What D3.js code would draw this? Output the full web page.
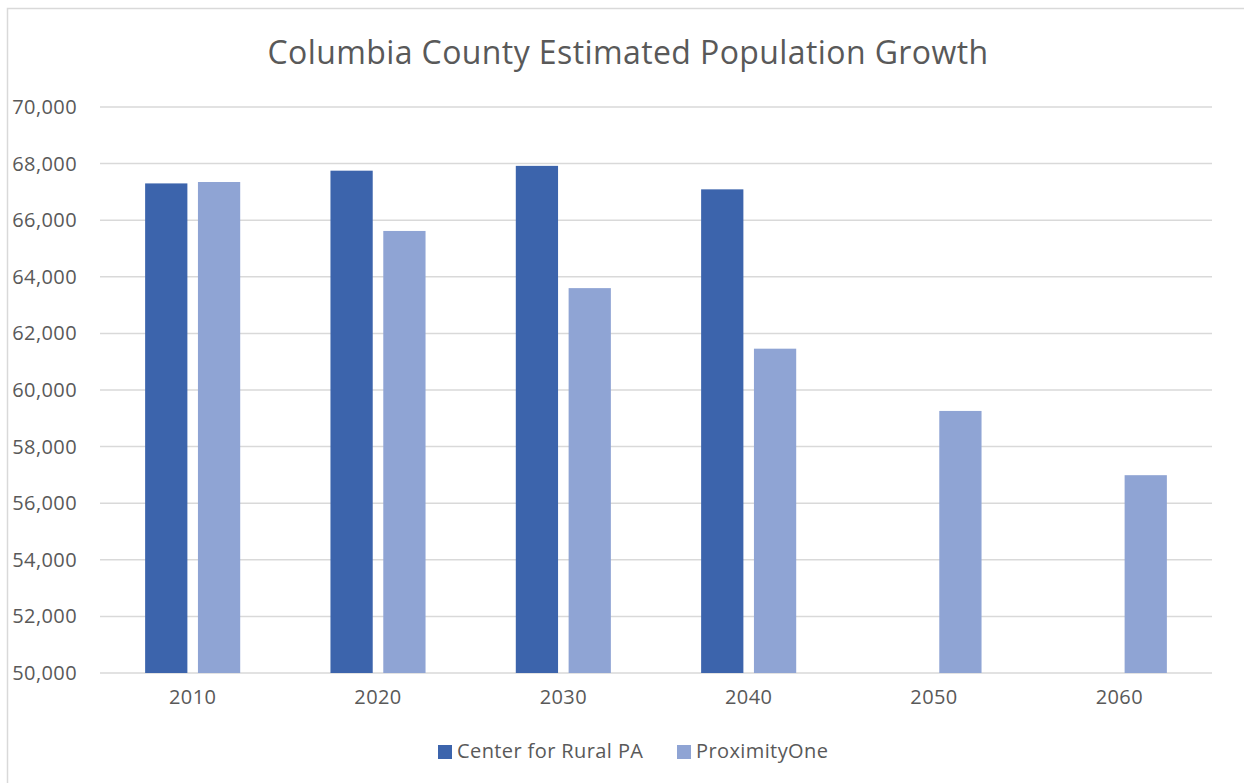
<!DOCTYPE html>
<html>
<head>
<meta charset="UTF-8">
<title>Columbia County Estimated Population Growth</title>
<script src="https://d3js.org/d3.v7.min.js"></script>
<style>
	body { margin: 0; background: #fff; }
	text { font-family: "Open Sans", "Liberation Sans", sans-serif; fill: #595959; }
</style>
</head>
<body>
<svg id="chart"></svg>
<script type="text/javascript">
	var years = ["2010", "2020", "2030", "2040", "2050", "2060"];
	var seriesNames = ["Center for Rural PA", "ProximityOne"];
	var centerRural = [67300, 67750, 67920, 67090, null, null];
	var proximityOne = [67350, 65620, 63600, 61460, 59260, 56990];
	var yTicks = [50000, 52000, 54000, 56000, 58000, 60000, 62000, 64000, 66000, 68000, 70000];
	var colors = ["#3c64ac", "#8fa4d4"];

	var width = 1244, height = 783;
	var margin = { left: 100, right: 32, top: 107, bottom: 110 };

	var svg = d3.select("#chart")
		.attr("width", width)
		.attr("height", height);

	// chart frame
	svg.append("rect")
		.attr("x", 7.5).attr("y", 8.5)
		.attr("width", 1260).attr("height", 800)
		.attr("fill", "none")
		.attr("stroke", "#d9d9d9")
		.attr("stroke-width", 1.5);

	var x0 = d3.scaleBand().domain(years)
		.range([margin.left, width - margin.right])
		.paddingInner(0.487).paddingOuter(0.2435);
	var x1 = d3.scaleBand().domain([0, 1])
		.range([0, x0.bandwidth()])
		.paddingInner(0.2);
	var y = d3.scaleLinear().domain([50000, 70000])
		.range([height - margin.bottom, margin.top]);

	// gridlines
	svg.append("g").selectAll("line")
		.data(yTicks).enter().append("line")
		.attr("x1", margin.left).attr("x2", width - margin.right)
		.attr("y1", function(d) { return y(d); })
		.attr("y2", function(d) { return y(d); })
		.attr("stroke", "#d9d9d9")
		.attr("stroke-width", 1.5);

	// y axis labels
	var yAxis = d3.axisLeft(y).tickValues(yTicks).tickSize(0).tickPadding(0)
		.tickFormat(d3.format(","));
	svg.append("g")
		.attr("transform", "translate(77,0)")
		.call(yAxis)
		.call(function(g) { g.select(".domain").remove(); })
		.selectAll("text")
		.style("font-size", "20px")
		.style("letter-spacing", "0.4px")
		.attr("fill", "#595959");

	// bars
	var groups = svg.append("g").selectAll("g")
		.data(years).enter().append("g")
		.attr("transform", function(d) { return "translate(" + x0(d) + ",0)"; });

	groups.selectAll("rect")
		.data(function(d, i) {
			return [centerRural[i], proximityOne[i]].map(function(v, k) { return { k: k, v: v }; });
		})
		.enter().filter(function(d) { return d.v != null; })
		.append("rect")
		.attr("x", function(d) { return x1(d.k); })
		.attr("width", x1.bandwidth())
		.attr("y", function(d) { return y(d.v); })
		.attr("height", function(d) { return y(50000) - y(d.v); })
		.attr("fill", function(d) { return colors[d.k]; });

	// x axis labels
	var xAxis = d3.axisBottom(x0).tickSize(0).tickPadding(0);
	svg.append("g")
		.attr("transform", "translate(0," + (height - margin.bottom + 17) + ")")
		.call(xAxis)
		.call(function(g) { g.select(".domain").remove(); })
		.selectAll("text")
		.style("font-size", "20px")
		.style("letter-spacing", "0.4px")
		.attr("fill", "#595959");

	// title
	svg.append("text")
		.attr("x", 628).attr("y", 64)
		.attr("text-anchor", "middle")
		.style("font-size", "32px")
		.style("letter-spacing", "0.4px")
		.text("Columbia County Estimated Population Growth");

	// legend
	var legendX = [438, 677];
	var legend = svg.append("g").selectAll("g")
		.data(seriesNames).enter().append("g")
		.attr("transform", function(d, i) { return "translate(" + legendX[i] + ",745)"; });
	legend.append("rect")
		.attr("width", 14).attr("height", 14)
		.attr("fill", function(d, i) { return colors[i]; });
	legend.append("text")
		.attr("x", 19).attr("y", 13)
		.style("font-size", "20px")
		.style("letter-spacing", "0.4px")
		.text(function(d) { return d; });
</script>
</body>
</html>
